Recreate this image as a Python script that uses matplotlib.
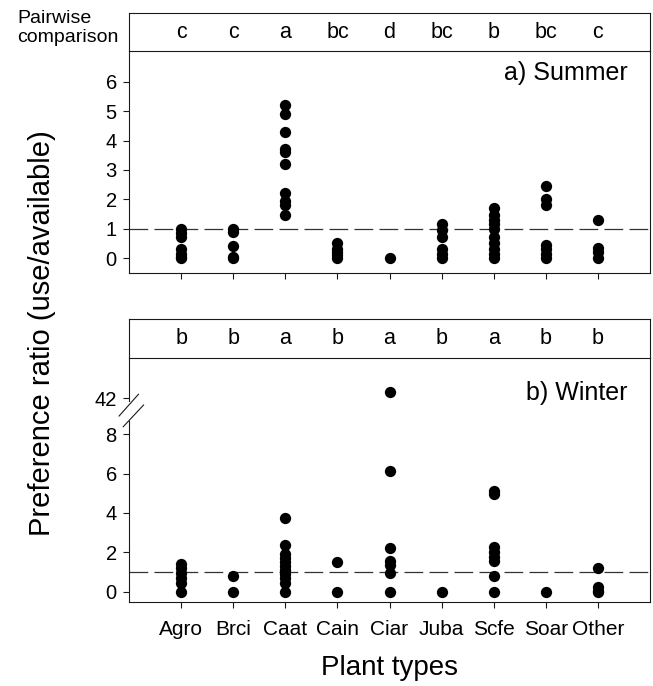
"""Preference ratio by plant type, summer vs winter."""

import matplotlib
matplotlib.use("Agg")
import matplotlib.pyplot as plt
import numpy as np

plt.rcParams["font.family"] = ["Liberation Sans", "DejaVu Sans"]

PLANTS = ["Agro", "Brci", "Caat", "Cain", "Ciar", "Juba", "Scfe", "Soar", "Other"]

SUMMER_LETTERS = ["c", "c", "a", "bc", "d", "bc", "b", "bc", "c"]
WINTER_LETTERS = ["b", "b", "a", "b", "a", "b", "a", "b", "b"]

SUMMER = {
    "Agro": [1.0, 0.85, 0.7, 0.3, 0.15, 0.05, 0.0],
    "Brci": [1.0, 0.9, 0.4, 0.05, 0.0],
    "Caat": [5.2, 4.9, 4.3, 3.7, 3.6, 3.2, 2.2, 1.95, 1.8, 1.45],
    "Cain": [0.5, 0.3, 0.2, 0.1, 0.0],
    "Ciar": [0.0],
    "Juba": [1.15, 0.95, 0.7, 0.3, 0.15, 0.0],
    "Scfe": [1.7, 1.45, 1.3, 1.15, 1.0, 0.7, 0.5, 0.3, 0.15, 0.0],
    "Soar": [2.45, 2.0, 1.8, 0.45, 0.3, 0.15, 0.0],
    "Other": [1.3, 0.35, 0.2, 0.0],
}

WINTER = {
    "Agro": [1.4, 1.2, 0.95, 0.7, 0.45, 0.0],
    "Brci": [0.8, 0.0],
    "Caat": [3.75, 2.4, 1.9, 1.7, 1.5, 1.3, 1.1, 0.9, 0.7, 0.45, 0.0],
    "Cain": [1.5, 0.0],
    "Ciar": [42.3, 6.15, 2.2, 1.55, 1.35, 0.95, 0.0],
    "Juba": [0.0],
    "Scfe": [5.1, 4.95, 2.3, 2.0, 1.75, 1.55, 0.8, 0.0],
    "Soar": [0.0],
    "Other": [1.2, 0.25, 0.05, 0.0],
}

SUMMER_YTICKS = [0, 1, 2, 3, 4, 5, 6]
WINTER_YTICKS = [0, 2, 4, 6, 8, 42]

# broken winter axis: linear up to 8.7, squeezed gap, linear again from 41
B_LO, B_HI, GAP = 8.7, 41.0, 0.13


def _fwd(y):
    y = np.asarray(y, dtype=float)
    return np.where(y <= B_LO, y,
                    np.where(y >= B_HI, y - (B_HI - B_LO - GAP),
                             B_LO + (y - B_LO) * GAP / (B_HI - B_LO)))


def _inv(f):
    f = np.asarray(f, dtype=float)
    return np.where(f <= B_LO, f,
                    np.where(f >= B_LO + GAP, f + (B_HI - B_LO - GAP),
                             B_LO + (f - B_LO) * (B_HI - B_LO) / GAP))


LINE = "#1a1a1a"


def _data_axes(ax, data):
    x = np.arange(1, len(PLANTS) + 1)
    for xi, name in zip(x, PLANTS):
        vals = data[name]
        ax.scatter([xi] * len(vals), vals, s=66, color="black", linewidths=0, zorder=3)
    ax.axhline(1.0, color="#333333", linewidth=0.9, linestyle=(0, (15, 5)), zorder=2)
    ax.set_xlim(0, 10)
    ax.set_xticks(x)
    for s in ax.spines.values():
        s.set_linewidth(0.8)
        s.set_color(LINE)
    ax.tick_params(direction="out", length=4, width=0.8, color=LINE, labelsize=14.5, pad=5)


def _letter_axes(ax, letters):
    x = np.arange(1, len(PLANTS) + 1)
    ax.set_xlim(0, 10)
    ax.set_ylim(0, 1)
    for xi, t in zip(x, letters):
        ax.text(xi, 0.5, t, ha="center", va="center", fontsize=15.5)
    ax.set_xticks([])
    ax.set_yticks([])
    ax.spines["bottom"].set_visible(False)
    for s in ax.spines.values():
        s.set_linewidth(0.8)
        s.set_color(LINE)


fig = plt.figure(figsize=(6.53, 6.86), dpi=100)
L, W = 0.198, 0.797

ax_sl = fig.add_axes([L, 0.9257, W, 0.0553])
ax_s = fig.add_axes([L, 0.6025, W, 0.3232])
ax_wl = fig.add_axes([L, 0.4786, W, 0.0564])
ax_w = fig.add_axes([L, 0.1229, W, 0.3557])

_letter_axes(ax_sl, SUMMER_LETTERS)
_letter_axes(ax_wl, WINTER_LETTERS)

_data_axes(ax_s, SUMMER)
ax_s.set_ylim(-0.5, 7.05)
ax_s.set_yticks(SUMMER_YTICKS)
ax_s.set_xticklabels([])
ax_s.text(0.958, 0.9, "a) Summer", transform=ax_s.transAxes, ha="right", va="center", fontsize=18)

_data_axes(ax_w, WINTER)
ax_w.set_yscale("function", functions=(_fwd, _inv))
ax_w.set_ylim(-0.5, 44.05)
ax_w.set_yticks(WINTER_YTICKS)
ax_w.set_yticklabels([str(t) for t in WINTER_YTICKS])
ax_w.yaxis.set_minor_locator(matplotlib.ticker.NullLocator())
ax_w.set_xticklabels(PLANTS)
ax_w.tick_params(axis="x", labelsize=15, pad=9)
ax_w.text(0.958, 0.855, "b) Winter", transform=ax_w.transAxes, ha="right", va="center", fontsize=18)

# axis break on the left spine of the winter panel
ax_w.spines["left"].set_visible(False)
ax_w.plot([0, 0], [0, 0.741], transform=ax_w.transAxes, color=LINE, lw=0.8, clip_on=False)
ax_w.plot([0, 0], [0.822, 1], transform=ax_w.transAxes, color=LINE, lw=0.8, clip_on=False)
ax_w.plot([-0.0196, 0.0176], [0.761, 0.850], transform=ax_w.transAxes, color=LINE, lw=0.8, clip_on=False)
ax_w.plot([-0.0117, 0.0274], [0.717, 0.806], transform=ax_w.transAxes, color=LINE, lw=0.8, clip_on=False)

fig.text(17 / 653, 1 - 10 / 686, "Pairwise\ncomparison", ha="left", va="top", fontsize=14, linespacing=1.15)
fig.text(0.064, 0.515, "Preference ratio (use/available)", rotation=90, ha="center", va="center", fontsize=21)
fig.text(0.597, 0.026, "Plant types", ha="center", va="center", fontsize=20)

fig.savefig("out.png", dpi=100)
